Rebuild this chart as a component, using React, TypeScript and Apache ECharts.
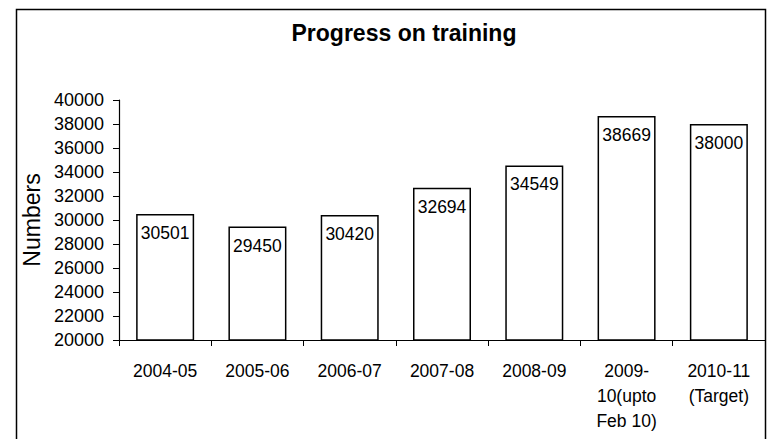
import React, { useEffect, useRef } from "react";
import * as echarts from "echarts";

const categories = [
  "2004-05",
  "2005-06",
  "2006-07",
  "2007-08",
  "2008-09",
  "2009-\n10(upto\nFeb 10)",
  "2010-11\n(Target)",
];
const values = [30501, 29450, 30420, 32694, 34549, 38669, 38000];
const yMin = 20000;
const yMax = 40000;
const yInterval = 2000;

const FONT = "'Liberation Sans', Arial, sans-serif";

export default function App() {
  const ref = useRef<HTMLDivElement>(null);
  useEffect(() => {
    document.body.style.margin = "0";
    if (!ref.current) return;
    const chart = echarts.init(ref.current, undefined, { renderer: "svg" });
    chart.setOption({
      animation: false,
      backgroundColor: "#ffffff",
      textStyle: { fontFamily: FONT, color: "#000" },
      title: {
        text: "Progress on training",
        left: 399,
        textAlign: "center",
        top: 16,
        textStyle: { fontFamily: FONT, fontWeight: "bold", fontSize: 23, color: "#000" },
      },
      graphic: [
        {
          type: "rect",
          shape: { x: 16.5, y: 9.5, width: 749, height: 460 },
          style: { fill: "none", stroke: "#000", lineWidth: 1.5 },
          silent: true,
          z: 100,
        },
      ],
      grid: { left: 119, right: 15, top: 100, bottom: 99 },
      xAxis: {
        type: "category",
        data: categories,
        axisLine: { lineStyle: { color: "#000", width: 1.2 } },
        axisTick: { show: true, length: 6, lineStyle: { color: "#000" } },
        axisLabel: {
          color: "#000",
          fontFamily: FONT,
          fontSize: 17.5,
          lineHeight: 25,
          margin: 18,
          interval: 0,
          align: "center",
        },
      },
      yAxis: {
        type: "value",
        min: yMin,
        max: yMax,
        interval: yInterval,
        name: "Numbers",
        nameLocation: "middle",
        nameGap: 67,
        nameRotate: 90,
        nameTextStyle: { fontFamily: FONT, fontSize: 23, color: "#000" },
        axisLine: { show: true, lineStyle: { color: "#000", width: 1.2 } },
        axisTick: { show: true, length: 6, lineStyle: { color: "#000" } },
        axisLabel: {
          color: "#000",
          fontFamily: FONT,
          fontSize: 18,
          margin: 15,
          formatter: (v: number) => String(v),
        },
        splitLine: { show: false },
      },
      series: [
        {
          type: "bar",
          data: values,
          barWidth: 58,
          itemStyle: { color: "#ffffff", borderColor: "#000", borderWidth: 1.5 },
          label: {
            show: true,
            position: "insideTop",
            distance: 10,
            color: "#000",
            fontFamily: FONT,
            fontSize: 17.5,
          },
        },
      ],
    });
    return () => chart.dispose();
  }, []);
  return <div ref={ref} style={{ width: 780, height: 439 }} />;
}
